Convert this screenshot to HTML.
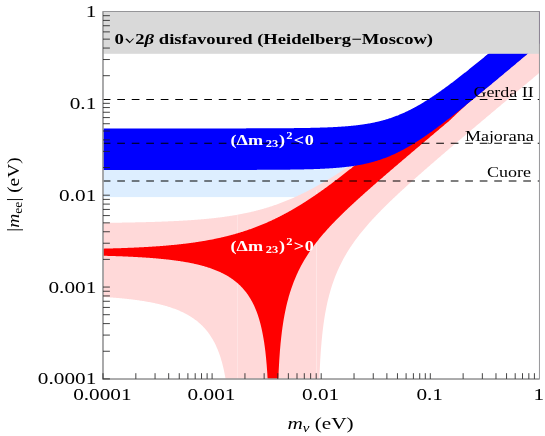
<!DOCTYPE html>
<html><head><meta charset="utf-8"><style>
html,body{margin:0;padding:0;background:#fff;}
body{width:545px;height:436px;overflow:hidden;position:relative;font-family:"Liberation Serif",serif;}
svg{position:absolute;left:0;top:0;will-change:transform;}
text{font-family:"Liberation Serif",serif;}
</style></head><body>
<svg width="545" height="436" viewBox="0 0 545 436">
<defs><clipPath id="cp"><rect x="103.0" y="11.5" width="436.4" height="367.4"/></clipPath></defs>
<rect x="0" y="0" width="545" height="436" fill="#fff"/>
<g clip-path="url(#cp)">
<rect x="103.0" y="150" width="270" height="47.099999999999994" fill="#ddeeff"/>
<polygon points="100.82,222.90 101.45,222.89 102.08,222.88 102.71,222.88 103.34,222.87 103.97,222.86 104.60,222.86 105.23,222.85 105.86,222.84 106.49,222.83 107.12,222.83 107.75,222.82 108.38,222.81 109.02,222.80 109.65,222.80 110.28,222.79 110.91,222.78 111.54,222.77 112.17,222.77 112.80,222.76 113.43,222.75 114.06,222.74 114.69,222.73 115.32,222.72 115.95,222.71 116.58,222.71 117.21,222.70 117.84,222.69 118.47,222.68 119.10,222.67 119.73,222.66 120.37,222.65 121.00,222.64 121.63,222.63 122.26,222.62 122.89,222.61 123.52,222.60 124.15,222.59 124.78,222.58 125.41,222.57 126.04,222.56 126.67,222.55 127.30,222.53 127.93,222.52 128.56,222.51 129.19,222.50 129.82,222.49 130.45,222.48 131.09,222.46 131.72,222.45 132.35,222.44 132.98,222.43 133.61,222.41 134.24,222.40 134.87,222.39 135.50,222.37 136.13,222.36 136.76,222.35 137.39,222.33 138.02,222.32 138.65,222.31 139.28,222.29 139.91,222.28 140.54,222.26 141.17,222.25 141.80,222.23 142.44,222.22 143.07,222.20 143.70,222.18 144.33,222.17 144.96,222.15 145.59,222.14 146.22,222.12 146.85,222.10 147.48,222.08 148.11,222.07 148.74,222.05 149.37,222.03 150.00,222.01 150.63,222.00 151.26,221.98 151.89,221.96 152.52,221.94 153.15,221.92 153.79,221.90 154.42,221.88 155.05,221.86 155.68,221.84 156.31,221.82 156.94,221.80 157.57,221.78 158.20,221.76 158.83,221.73 159.46,221.71 160.09,221.69 160.72,221.67 161.35,221.64 161.98,221.62 162.61,221.60 163.24,221.57 163.87,221.55 164.50,221.52 165.14,221.50 165.77,221.47 166.40,221.45 167.03,221.42 167.66,221.40 168.29,221.37 168.92,221.34 169.55,221.31 170.18,221.29 170.81,221.26 171.44,221.23 172.07,221.20 172.70,221.17 173.33,221.14 173.96,221.11 174.59,221.08 175.22,221.05 175.86,221.02 176.49,220.99 177.12,220.96 177.75,220.92 178.38,220.89 179.01,220.86 179.64,220.82 180.27,220.79 180.90,220.75 181.53,220.72 182.16,220.68 182.79,220.65 183.42,220.61 184.05,220.57 184.68,220.54 185.31,220.50 185.94,220.46 186.57,220.42 187.21,220.38 187.84,220.34 188.47,220.30 189.10,220.26 189.73,220.22 190.36,220.17 190.99,220.13 191.62,220.09 192.25,220.04 192.88,220.00 193.51,219.95 194.14,219.91 194.77,219.86 195.40,219.81 196.03,219.76 196.66,219.72 197.29,219.67 197.92,219.62 198.56,219.57 199.19,219.51 199.82,219.46 200.45,219.41 201.08,219.36 201.71,219.30 202.34,219.25 202.97,219.19 203.60,219.14 204.23,219.08 204.86,219.02 205.49,218.96 206.12,218.90 206.75,218.84 207.38,218.78 208.01,218.72 208.64,218.66 209.27,218.60 209.91,218.53 210.54,218.47 211.17,218.40 211.80,218.33 212.43,218.27 213.06,218.20 213.69,218.13 214.32,218.06 214.95,217.99 215.58,217.91 216.21,217.84 216.84,217.77 217.47,217.69 218.10,217.62 218.73,217.54 219.36,217.46 219.99,217.38 220.63,217.30 221.26,217.22 221.89,217.14 222.52,217.06 223.15,216.97 223.78,216.89 224.41,216.80 225.04,216.71 225.67,216.62 226.30,216.53 226.93,216.44 227.56,216.35 228.19,216.26 228.82,216.16 229.45,216.07 230.08,215.97 230.71,215.87 231.34,215.77 231.98,215.67 232.61,215.57 233.24,215.46 233.87,215.36 234.50,215.25 235.13,215.15 235.76,215.04 236.39,214.93 237.02,214.81 237.65,214.70 238.28,214.59 238.91,214.47 239.54,214.35 240.17,214.24 240.80,214.12 241.43,213.99 242.06,213.87 242.69,213.75 243.33,213.62 243.96,213.49 244.59,213.36 245.22,213.23 245.85,213.10 246.48,212.97 247.11,212.83 247.74,212.69 248.37,212.56 249.00,212.42 249.63,212.27 250.26,212.13 250.89,211.98 251.52,211.84 252.15,211.69 252.78,211.54 253.41,211.39 254.04,211.23 254.68,211.08 255.31,210.92 255.94,210.76 256.57,210.60 257.20,210.44 257.83,210.27 258.46,210.10 259.09,209.94 259.72,209.77 260.35,209.59 260.98,209.42 261.61,209.24 262.24,209.07 262.87,208.89 263.50,208.71 264.13,208.52 264.76,208.34 265.40,208.15 266.03,207.96 266.66,207.77 267.29,207.58 267.92,207.38 268.55,207.18 269.18,206.98 269.81,206.78 270.44,206.58 271.07,206.38 271.70,206.17 272.33,205.96 272.96,205.75 273.59,205.53 274.22,205.32 274.85,205.10 275.48,204.88 276.11,204.66 276.75,204.44 277.38,204.21 278.01,203.99 278.64,203.76 279.27,203.52 279.90,203.29 280.53,203.06 281.16,202.82 281.79,202.58 282.42,202.34 283.05,202.09 283.68,201.85 284.31,201.60 284.94,201.35 285.57,201.10 286.20,200.84 286.83,200.58 287.46,200.33 288.10,200.07 288.73,199.80 289.36,199.54 289.99,199.27 290.62,199.00 291.25,198.73 291.88,198.46 292.51,198.18 293.14,197.91 293.77,197.63 294.40,197.35 295.03,197.06 295.66,196.78 296.29,196.49 296.92,196.20 297.55,195.91 298.18,195.62 298.81,195.32 299.45,195.02 300.08,194.73 300.71,194.42 301.34,194.12 301.97,193.82 302.60,193.51 303.23,193.20 303.86,192.89 304.49,192.58 305.12,192.26 305.75,191.94 306.38,191.63 307.01,191.30 307.64,190.98 308.27,190.66 308.90,190.33 309.53,190.00 310.17,189.67 310.80,189.34 311.43,189.01 312.06,188.67 312.69,188.33 313.32,187.99 313.95,187.65 314.58,187.31 315.21,186.97 315.84,186.62 316.47,186.27 317.10,185.92 317.73,185.57 318.36,185.22 318.99,184.86 319.62,184.50 320.25,184.15 320.88,183.79 321.52,183.42 322.15,183.06 322.78,182.69 323.41,182.33 324.04,181.96 324.67,181.59 325.30,181.22 325.93,180.84 326.56,180.47 327.19,180.09 327.82,179.71 328.45,179.33 329.08,178.95 329.71,178.57 330.34,178.18 330.97,177.80 331.60,177.41 332.23,177.02 332.87,176.63 333.50,176.24 334.13,175.84 334.76,175.45 335.39,175.05 336.02,174.65 336.65,174.25 337.28,173.85 337.91,173.45 338.54,173.05 339.17,172.64 339.80,172.24 340.43,171.83 341.06,171.42 341.69,171.01 342.32,170.60 342.95,170.19 343.59,169.77 344.22,169.36 344.85,168.94 345.48,168.52 346.11,168.10 346.74,167.68 347.37,167.26 348.00,166.84 348.63,166.41 349.26,165.99 349.89,165.56 350.52,165.13 351.15,164.70 351.78,164.27 352.41,163.84 353.04,163.41 353.67,162.97 354.30,162.54 354.94,162.10 355.57,161.67 356.20,161.23 356.83,160.79 357.46,160.35 358.09,159.91 358.72,159.46 359.35,159.02 359.98,158.58 360.61,158.13 361.24,157.68 361.87,157.24 362.50,156.79 363.13,156.34 363.76,155.89 364.39,155.44 365.02,154.98 365.65,154.53 366.29,154.08 366.92,153.62 367.55,153.17 368.18,152.71 368.81,152.25 369.44,151.79 370.07,151.33 370.70,150.87 371.33,150.41 371.96,149.95 372.59,149.48 373.22,149.02 373.85,148.56 374.48,148.09 375.11,147.62 375.74,147.16 376.37,146.69 377.00,146.22 377.64,145.75 378.27,145.28 378.90,144.81 379.53,144.34 380.16,143.86 380.79,143.39 381.42,142.92 382.05,142.44 382.68,141.97 383.31,141.49 383.94,141.01 384.57,140.53 385.20,140.06 385.83,139.58 386.46,139.10 387.09,138.62 387.72,138.13 388.36,137.65 388.99,137.17 389.62,136.69 390.25,136.20 390.88,135.72 391.51,135.23 392.14,134.75 392.77,134.26 393.40,133.78 394.03,133.29 394.66,132.80 395.29,132.31 395.92,131.82 396.55,131.33 397.18,130.84 397.81,130.35 398.44,129.86 399.07,129.37 399.71,128.87 400.34,128.38 400.97,127.89 401.60,127.39 402.23,126.90 402.86,126.40 403.49,125.91 404.12,125.41 404.75,124.92 405.38,124.42 406.01,123.92 406.64,123.42 407.27,122.92 407.90,122.42 408.53,121.92 409.16,121.42 409.79,120.92 410.42,120.42 411.06,119.92 411.69,119.42 412.32,118.92 412.95,118.41 413.58,117.91 414.21,117.41 414.84,116.90 415.47,116.40 416.10,115.89 416.73,115.39 417.36,114.88 417.99,114.38 418.62,113.87 419.25,113.36 419.88,112.86 420.51,112.35 421.14,111.84 421.77,111.33 422.41,110.83 423.04,110.32 423.67,109.81 424.30,109.30 424.93,108.79 425.56,108.28 426.19,107.77 426.82,107.25 427.45,106.74 428.08,106.23 428.71,105.72 429.34,105.21 429.97,104.69 430.60,104.18 431.23,103.67 431.86,103.15 432.49,102.64 433.13,102.13 433.76,101.61 434.39,101.10 435.02,100.58 435.65,100.07 436.28,99.55 436.91,99.03 437.54,98.52 438.17,98.00 438.80,97.49 439.43,96.97 440.06,96.45 440.69,95.93 441.32,95.42 441.95,94.90 442.58,94.38 443.21,93.86 443.84,93.34 444.48,92.82 445.11,92.30 445.74,91.78 446.37,91.27 447.00,90.75 447.63,90.23 448.26,89.70 448.89,89.18 449.52,88.66 450.15,88.14 450.78,87.62 451.41,87.10 452.04,86.58 452.67,86.06 453.30,85.54 453.93,85.01 454.56,84.49 455.19,83.97 455.83,83.45 456.46,82.92 457.09,82.40 457.72,81.88 458.35,81.35 458.98,80.83 459.61,80.31 460.24,79.78 460.87,79.26 461.50,78.74 462.13,78.21 462.76,77.69 463.39,77.16 464.02,76.64 464.65,76.11 465.28,75.59 465.91,75.06 466.54,74.54 467.18,74.01 467.81,73.49 468.44,72.96 469.07,72.44 469.70,71.91 470.33,71.38 470.96,70.86 471.59,70.33 472.22,69.81 472.85,69.28 473.48,68.75 474.11,68.23 474.74,67.70 475.37,67.17 476.00,66.65 476.63,66.12 477.26,65.59 477.90,65.07 478.53,64.54 479.16,64.01 479.79,63.48 480.42,62.96 481.05,62.43 481.68,61.90 482.31,61.37 482.94,60.85 483.57,60.32 484.20,59.79 484.83,59.26 485.46,58.73 486.09,58.21 486.72,57.68 487.35,57.15 487.98,56.62 488.61,56.09 489.25,55.56 489.88,55.04 490.51,54.51 491.14,53.98 491.77,53.45 492.40,52.92 493.03,52.39 493.66,51.86 494.29,51.34 494.92,50.81 495.55,50.28 496.18,49.75 496.81,49.22 497.44,48.69 498.07,48.16 498.70,47.63 499.33,47.10 499.96,46.57 500.60,46.04 501.23,45.51 501.86,44.99 502.49,44.46 503.12,43.93 503.75,43.40 504.38,42.87 505.01,42.34 505.64,41.81 506.27,41.28 506.90,40.75 507.53,40.22 508.16,39.69 508.79,39.16 509.42,38.63 510.05,38.10 510.68,37.57 511.31,37.04 511.95,36.51 512.58,35.98 513.21,35.45 513.84,34.92 514.47,34.39 515.10,33.86 515.73,33.33 516.36,32.80 516.99,32.27 517.62,31.74 518.25,31.21 518.88,30.68 519.51,30.15 520.14,29.62 520.77,29.09 521.40,28.56 522.03,28.03 522.67,27.50 523.30,26.97 523.93,26.44 524.56,25.91 525.19,25.38 525.82,24.85 526.45,24.32 527.08,23.79 527.71,23.26 528.34,22.73 528.97,22.20 529.60,21.67 530.23,21.14 530.86,20.61 531.49,20.07 532.12,19.54 532.75,19.01 533.38,18.48 534.02,17.95 534.65,17.42 535.28,16.89 535.91,16.36 536.54,15.83 537.17,15.30 537.80,14.77 538.43,14.24 539.06,13.71 539.69,13.18 540.32,12.65 540.95,12.12 541.58,11.59 541.58,70.98 540.95,71.51 540.32,72.03 539.69,72.56 539.06,73.09 538.43,73.62 537.80,74.15 537.17,74.68 536.54,75.21 535.91,75.74 535.28,76.27 534.65,76.80 534.02,77.33 533.38,77.86 532.75,78.39 532.12,78.91 531.49,79.44 530.86,79.97 530.23,80.50 529.60,81.03 528.97,81.56 528.34,82.09 527.71,82.62 527.08,83.15 526.45,83.68 525.82,84.21 525.19,84.74 524.56,85.27 523.93,85.80 523.30,86.33 522.67,86.85 522.03,87.38 521.40,87.91 520.77,88.44 520.14,88.97 519.51,89.50 518.88,90.03 518.25,90.56 517.62,91.09 516.99,91.62 516.36,92.15 515.73,92.68 515.10,93.21 514.47,93.74 513.84,94.27 513.21,94.80 512.58,95.33 511.95,95.86 511.31,96.39 510.68,96.92 510.05,97.45 509.42,97.98 508.79,98.51 508.16,99.04 507.53,99.57 506.90,100.10 506.27,100.63 505.64,101.16 505.01,101.69 504.38,102.22 503.75,102.75 503.12,103.28 502.49,103.81 501.86,104.34 501.23,104.87 500.60,105.40 499.96,105.93 499.33,106.46 498.70,106.99 498.07,107.52 497.44,108.05 496.81,108.58 496.18,109.11 495.55,109.64 494.92,110.17 494.29,110.70 493.66,111.23 493.03,111.76 492.40,112.29 491.77,112.82 491.14,113.35 490.51,113.89 489.88,114.42 489.25,114.95 488.61,115.48 487.98,116.01 487.35,116.54 486.72,117.07 486.09,117.60 485.46,118.13 484.83,118.67 484.20,119.20 483.57,119.73 482.94,120.26 482.31,120.79 481.68,121.32 481.05,121.86 480.42,122.39 479.79,122.92 479.16,123.45 478.53,123.98 477.90,124.52 477.26,125.05 476.63,125.58 476.00,126.11 475.37,126.64 474.74,127.18 474.11,127.71 473.48,128.24 472.85,128.78 472.22,129.31 471.59,129.84 470.96,130.37 470.33,130.91 469.70,131.44 469.07,131.97 468.44,132.51 467.81,133.04 467.18,133.58 466.54,134.11 465.91,134.64 465.28,135.18 464.65,135.71 464.02,136.25 463.39,136.78 462.76,137.32 462.13,137.85 461.50,138.39 460.87,138.92 460.24,139.46 459.61,139.99 458.98,140.53 458.35,141.06 457.72,141.60 457.09,142.14 456.46,142.67 455.83,143.21 455.19,143.74 454.56,144.28 453.93,144.82 453.30,145.36 452.67,145.89 452.04,146.43 451.41,146.97 450.78,147.51 450.15,148.04 449.52,148.58 448.89,149.12 448.26,149.66 447.63,150.20 447.00,150.74 446.37,151.28 445.74,151.82 445.11,152.36 444.48,152.90 443.84,153.44 443.21,153.98 442.58,154.52 441.95,155.06 441.32,155.60 440.69,156.15 440.06,156.69 439.43,157.23 438.80,157.77 438.17,158.32 437.54,158.86 436.91,159.40 436.28,159.95 435.65,160.49 435.02,161.04 434.39,161.58 433.76,162.13 433.13,162.67 432.49,163.22 431.86,163.77 431.23,164.31 430.60,164.86 429.97,165.41 429.34,165.96 428.71,166.51 428.08,167.06 427.45,167.61 426.82,168.16 426.19,168.71 425.56,169.26 424.93,169.81 424.30,170.36 423.67,170.91 423.04,171.47 422.41,172.02 421.77,172.58 421.14,173.13 420.51,173.69 419.88,174.24 419.25,174.80 418.62,175.36 417.99,175.91 417.36,176.47 416.73,177.03 416.10,177.59 415.47,178.15 414.84,178.71 414.21,179.27 413.58,179.84 412.95,180.40 412.32,180.96 411.69,181.53 411.06,182.09 410.42,182.66 409.79,183.23 409.16,183.80 408.53,184.37 407.90,184.94 407.27,185.51 406.64,186.08 406.01,186.65 405.38,187.23 404.75,187.80 404.12,188.38 403.49,188.95 402.86,189.53 402.23,190.11 401.60,190.69 400.97,191.27 400.34,191.86 399.71,192.44 399.07,193.03 398.44,193.61 397.81,194.20 397.18,194.79 396.55,195.38 395.92,195.97 395.29,196.57 394.66,197.16 394.03,197.76 393.40,198.36 392.77,198.96 392.14,199.56 391.51,200.16 390.88,200.77 390.25,201.37 389.62,201.98 388.99,202.59 388.36,203.21 387.72,203.82 387.09,204.44 386.46,205.06 385.83,205.68 385.20,206.30 384.57,206.93 383.94,207.55 383.31,208.18 382.68,208.82 382.05,209.45 381.42,210.09 380.79,210.73 380.16,211.38 379.53,212.02 378.90,212.67 378.27,213.32 377.64,213.98 377.00,214.64 376.37,215.30 375.74,215.96 375.11,216.63 374.48,217.31 373.85,217.98 373.22,218.66 372.59,219.35 371.96,220.03 371.33,220.73 370.70,221.42 370.07,222.12 369.44,222.83 368.81,223.54 368.18,224.25 367.55,224.97 366.92,225.70 366.29,226.43 365.65,227.17 365.02,227.91 364.39,228.66 363.76,229.41 363.13,230.17 362.50,230.94 361.87,231.71 361.24,232.49 360.61,233.28 359.98,234.07 359.35,234.87 358.72,235.69 358.09,236.50 357.46,237.33 356.83,238.17 356.20,239.02 355.57,239.87 354.94,240.74 354.30,241.61 353.67,242.50 353.04,243.40 352.41,244.31 351.78,245.23 351.15,246.16 350.52,247.11 349.89,248.07 349.26,249.05 348.63,250.04 348.00,251.05 347.37,252.07 346.74,253.11 346.11,254.17 345.48,255.25 344.85,256.34 344.22,257.46 343.59,258.60 342.95,259.76 342.32,260.95 341.69,262.16 341.06,263.40 340.43,264.67 339.80,265.97 339.17,267.30 338.54,268.67 337.91,270.07 337.28,271.51 336.65,272.99 336.02,274.51 335.39,276.09 334.76,277.71 334.13,279.39 333.50,281.13 332.87,282.93 332.23,284.81 331.60,286.76 330.97,288.79 330.34,290.92 329.71,293.14 329.08,295.48 328.45,297.95 327.82,300.56 327.19,303.33 326.56,306.28 325.93,309.45 325.30,312.86 324.67,316.56 324.04,320.61 323.41,325.08 322.78,330.07 322.15,335.74 321.52,342.30 320.88,350.08 320.25,359.69 319.62,372.26 318.99,390.54 318.36,424.88 317.73,426.93 317.10,426.93 316.47,426.93 315.84,426.93 315.21,426.93 314.58,426.93 313.95,426.93 313.32,426.93 312.69,426.93 312.06,426.93 311.43,426.93 310.80,426.93 310.17,426.93 309.53,426.93 308.90,426.93 308.27,426.93 307.64,426.93 307.01,426.93 306.38,426.93 305.75,426.93 305.12,426.93 304.49,426.93 303.86,426.93 303.23,426.93 302.60,426.93 301.97,426.93 301.34,426.93 300.71,426.93 300.08,426.93 299.45,426.93 298.81,426.93 298.18,426.93 297.55,426.93 296.92,426.93 296.29,426.93 295.66,426.93 295.03,426.93 294.40,426.93 293.77,426.93 293.14,426.93 292.51,426.93 291.88,426.93 291.25,426.93 290.62,426.93 289.99,426.93 289.36,426.93 288.73,426.93 288.10,426.93 287.46,426.93 286.83,426.93 286.20,426.93 285.57,426.93 284.94,426.93 284.31,426.93 283.68,426.93 283.05,426.93 282.42,426.93 281.79,426.93 281.16,426.93 280.53,426.93 279.90,426.93 279.27,426.93 278.64,426.93 278.01,426.93 277.38,426.93 276.75,426.93 276.11,426.93 275.48,426.93 274.85,426.93 274.22,426.93 273.59,426.93 272.96,426.93 272.33,426.93 271.70,426.93 271.07,426.93 270.44,426.93 269.81,426.93 269.18,426.93 268.55,426.93 267.92,426.93 267.29,426.93 266.66,426.93 266.03,426.93 265.40,426.93 264.76,426.93 264.13,426.93 263.50,426.93 262.87,426.93 262.24,426.93 261.61,426.93 260.98,426.93 260.35,426.93 259.72,426.93 259.09,426.93 258.46,426.93 257.83,426.93 257.20,426.93 256.57,426.93 255.94,426.93 255.31,426.93 254.68,426.93 254.04,426.93 253.41,426.93 252.78,426.93 252.15,426.93 251.52,426.93 250.89,426.93 250.26,426.93 249.63,426.93 249.00,426.93 248.37,426.93 247.74,426.93 247.11,426.93 246.48,426.93 245.85,426.93 245.22,426.93 244.59,426.93 243.96,426.93 243.33,426.93 242.69,426.93 242.06,426.93 241.43,426.93 240.80,426.93 240.17,426.93 239.54,426.93 238.91,426.93 238.28,426.93 237.65,426.93 237.02,426.93 236.39,426.93 235.76,426.93 235.13,426.93 234.50,426.93 233.87,426.93 233.24,426.93 232.61,426.93 231.98,426.93 231.34,426.93 230.71,426.93 230.08,426.93 229.45,416.05 228.82,406.99 228.19,399.69 227.56,393.59 226.93,388.36 226.30,383.79 225.67,379.74 225.04,376.10 224.41,372.81 223.78,369.80 223.15,367.03 222.52,364.48 221.89,362.11 221.26,359.89 220.63,357.82 219.99,355.87 219.36,354.04 218.73,352.30 218.10,350.66 217.47,349.11 216.84,347.63 216.21,346.21 215.58,344.87 214.95,343.58 214.32,342.35 213.69,341.17 213.06,340.04 212.43,338.95 211.80,337.90 211.17,336.90 210.54,335.93 209.91,334.99 209.27,334.09 208.64,333.21 208.01,332.37 207.38,331.56 206.75,330.77 206.12,330.00 205.49,329.26 204.86,328.54 204.23,327.84 203.60,327.17 202.97,326.51 202.34,325.87 201.71,325.25 201.08,324.65 200.45,324.06 199.82,323.49 199.19,322.93 198.56,322.39 197.92,321.86 197.29,321.34 196.66,320.84 196.03,320.35 195.40,319.88 194.77,319.41 194.14,318.95 193.51,318.51 192.88,318.08 192.25,317.65 191.62,317.24 190.99,316.83 190.36,316.44 189.73,316.05 189.10,315.67 188.47,315.30 187.84,314.94 187.21,314.59 186.57,314.24 185.94,313.90 185.31,313.57 184.68,313.24 184.05,312.93 183.42,312.61 182.79,312.31 182.16,312.01 181.53,311.71 180.90,311.43 180.27,311.14 179.64,310.87 179.01,310.60 178.38,310.33 177.75,310.07 177.12,309.82 176.49,309.56 175.86,309.32 175.22,309.08 174.59,308.84 173.96,308.61 173.33,308.38 172.70,308.15 172.07,307.93 171.44,307.72 170.81,307.51 170.18,307.30 169.55,307.09 168.92,306.89 168.29,306.70 167.66,306.50 167.03,306.31 166.40,306.12 165.77,305.94 165.14,305.76 164.50,305.58 163.87,305.41 163.24,305.24 162.61,305.07 161.98,304.90 161.35,304.74 160.72,304.58 160.09,304.42 159.46,304.27 158.83,304.12 158.20,303.97 157.57,303.82 156.94,303.67 156.31,303.53 155.68,303.39 155.05,303.25 154.42,303.12 153.79,302.99 153.15,302.85 152.52,302.73 151.89,302.60 151.26,302.47 150.63,302.35 150.00,302.23 149.37,302.11 148.74,301.99 148.11,301.88 147.48,301.77 146.85,301.65 146.22,301.54 145.59,301.44 144.96,301.33 144.33,301.23 143.70,301.12 143.07,301.02 142.44,300.92 141.80,300.82 141.17,300.73 140.54,300.63 139.91,300.54 139.28,300.44 138.65,300.35 138.02,300.26 137.39,300.17 136.76,300.09 136.13,300.00 135.50,299.92 134.87,299.83 134.24,299.75 133.61,299.67 132.98,299.59 132.35,299.51 131.72,299.44 131.09,299.36 130.45,299.29 129.82,299.21 129.19,299.14 128.56,299.07 127.93,299.00 127.30,298.93 126.67,298.86 126.04,298.79 125.41,298.73 124.78,298.66 124.15,298.60 123.52,298.53 122.89,298.47 122.26,298.41 121.63,298.35 121.00,298.29 120.37,298.23 119.73,298.17 119.10,298.11 118.47,298.06 117.84,298.00 117.21,297.95 116.58,297.89 115.95,297.84 115.32,297.79 114.69,297.74 114.06,297.69 113.43,297.63 112.80,297.59 112.17,297.54 111.54,297.49 110.91,297.44 110.28,297.39 109.65,297.35 109.02,297.30 108.38,297.26 107.75,297.21 107.12,297.17 106.49,297.13 105.86,297.09 105.23,297.04 104.60,297.00 103.97,296.96 103.34,296.92 102.71,296.88 102.08,296.84 101.45,296.81 100.82,296.77" fill="#ffd9d9"/>
<g stroke="#ffeaea" stroke-width="0.7"><line x1="237.4" y1="215.2" x2="237.4" y2="380"/><line x1="316.5" y1="190" x2="316.5" y2="380"/></g>
<polygon points="100.82,248.70 101.45,248.69 102.08,248.67 102.71,248.66 103.34,248.64 103.97,248.63 104.60,248.61 105.23,248.59 105.86,248.58 106.49,248.56 107.12,248.55 107.75,248.53 108.38,248.51 109.02,248.50 109.65,248.48 110.28,248.46 110.91,248.44 111.54,248.43 112.17,248.41 112.80,248.39 113.43,248.37 114.06,248.35 114.69,248.33 115.32,248.31 115.95,248.30 116.58,248.28 117.21,248.26 117.84,248.23 118.47,248.21 119.10,248.19 119.73,248.17 120.37,248.15 121.00,248.13 121.63,248.11 122.26,248.09 122.89,248.06 123.52,248.04 124.15,248.02 124.78,247.99 125.41,247.97 126.04,247.95 126.67,247.92 127.30,247.90 127.93,247.87 128.56,247.85 129.19,247.82 129.82,247.80 130.45,247.77 131.09,247.74 131.72,247.72 132.35,247.69 132.98,247.66 133.61,247.63 134.24,247.61 134.87,247.58 135.50,247.55 136.13,247.52 136.76,247.49 137.39,247.46 138.02,247.43 138.65,247.40 139.28,247.37 139.91,247.33 140.54,247.30 141.17,247.27 141.80,247.24 142.44,247.20 143.07,247.17 143.70,247.14 144.33,247.10 144.96,247.07 145.59,247.03 146.22,246.99 146.85,246.96 147.48,246.92 148.11,246.88 148.74,246.85 149.37,246.81 150.00,246.77 150.63,246.73 151.26,246.69 151.89,246.65 152.52,246.61 153.15,246.57 153.79,246.53 154.42,246.48 155.05,246.44 155.68,246.40 156.31,246.35 156.94,246.31 157.57,246.27 158.20,246.22 158.83,246.17 159.46,246.13 160.09,246.08 160.72,246.03 161.35,245.98 161.98,245.93 162.61,245.89 163.24,245.83 163.87,245.78 164.50,245.73 165.14,245.68 165.77,245.63 166.40,245.57 167.03,245.52 167.66,245.47 168.29,245.41 168.92,245.35 169.55,245.30 170.18,245.24 170.81,245.18 171.44,245.12 172.07,245.06 172.70,245.00 173.33,244.94 173.96,244.88 174.59,244.82 175.22,244.76 175.86,244.69 176.49,244.63 177.12,244.56 177.75,244.50 178.38,244.43 179.01,244.36 179.64,244.29 180.27,244.22 180.90,244.15 181.53,244.08 182.16,244.01 182.79,243.94 183.42,243.86 184.05,243.79 184.68,243.71 185.31,243.64 185.94,243.56 186.57,243.48 187.21,243.40 187.84,243.32 188.47,243.24 189.10,243.16 189.73,243.08 190.36,242.99 190.99,242.91 191.62,242.82 192.25,242.74 192.88,242.65 193.51,242.56 194.14,242.47 194.77,242.38 195.40,242.29 196.03,242.19 196.66,242.10 197.29,242.01 197.92,241.91 198.56,241.81 199.19,241.71 199.82,241.62 200.45,241.51 201.08,241.41 201.71,241.31 202.34,241.21 202.97,241.10 203.60,241.00 204.23,240.89 204.86,240.78 205.49,240.67 206.12,240.56 206.75,240.45 207.38,240.33 208.01,240.22 208.64,240.10 209.27,239.99 209.91,239.87 210.54,239.75 211.17,239.63 211.80,239.50 212.43,239.38 213.06,239.26 213.69,239.13 214.32,239.00 214.95,238.87 215.58,238.74 216.21,238.61 216.84,238.48 217.47,238.34 218.10,238.21 218.73,238.07 219.36,237.93 219.99,237.79 220.63,237.65 221.26,237.51 221.89,237.36 222.52,237.22 223.15,237.07 223.78,236.92 224.41,236.77 225.04,236.62 225.67,236.46 226.30,236.31 226.93,236.15 227.56,235.99 228.19,235.83 228.82,235.67 229.45,235.51 230.08,235.34 230.71,235.17 231.34,235.01 231.98,234.84 232.61,234.67 233.24,234.49 233.87,234.32 234.50,234.14 235.13,233.96 235.76,233.78 236.39,233.60 237.02,233.42 237.65,233.23 238.28,233.05 238.91,232.86 239.54,232.67 240.17,232.47 240.80,232.28 241.43,232.08 242.06,231.89 242.69,231.69 243.33,231.49 243.96,231.28 244.59,231.08 245.22,230.87 245.85,230.66 246.48,230.45 247.11,230.24 247.74,230.02 248.37,229.81 249.00,229.59 249.63,229.37 250.26,229.15 250.89,228.92 251.52,228.70 252.15,228.47 252.78,228.24 253.41,228.01 254.04,227.77 254.68,227.54 255.31,227.30 255.94,227.06 256.57,226.82 257.20,226.58 257.83,226.33 258.46,226.08 259.09,225.83 259.72,225.58 260.35,225.33 260.98,225.07 261.61,224.81 262.24,224.55 262.87,224.29 263.50,224.03 264.13,223.76 264.76,223.49 265.40,223.22 266.03,222.95 266.66,222.67 267.29,222.40 267.92,222.12 268.55,221.84 269.18,221.55 269.81,221.27 270.44,220.98 271.07,220.69 271.70,220.40 272.33,220.10 272.96,219.81 273.59,219.51 274.22,219.21 274.85,218.91 275.48,218.60 276.11,218.30 276.75,217.99 277.38,217.68 278.01,217.36 278.64,217.05 279.27,216.73 279.90,216.41 280.53,216.09 281.16,215.76 281.79,215.44 282.42,215.11 283.05,214.78 283.68,214.45 284.31,214.11 284.94,213.78 285.57,213.44 286.20,213.10 286.83,212.75 287.46,212.41 288.10,212.06 288.73,211.71 289.36,211.36 289.99,211.00 290.62,210.65 291.25,210.29 291.88,209.93 292.51,209.57 293.14,209.20 293.77,208.84 294.40,208.47 295.03,208.10 295.66,207.73 296.29,207.35 296.92,206.98 297.55,206.60 298.18,206.22 298.81,205.83 299.45,205.45 300.08,205.06 300.71,204.67 301.34,204.28 301.97,203.89 302.60,203.49 303.23,203.10 303.86,202.70 304.49,202.30 305.12,201.90 305.75,201.49 306.38,201.09 307.01,200.68 307.64,200.27 308.27,199.86 308.90,199.44 309.53,199.03 310.17,198.61 310.80,198.19 311.43,197.77 312.06,197.35 312.69,196.92 313.32,196.50 313.95,196.07 314.58,195.64 315.21,195.21 315.84,194.78 316.47,194.34 317.10,193.90 317.73,193.47 318.36,193.03 318.99,192.59 319.62,192.14 320.25,191.70 320.88,191.25 321.52,190.81 322.15,190.36 322.78,189.91 323.41,189.45 324.04,189.00 324.67,188.55 325.30,188.09 325.93,187.63 326.56,187.17 327.19,186.71 327.82,186.25 328.45,185.79 329.08,185.32 329.71,184.86 330.34,184.39 330.97,183.92 331.60,183.45 332.23,182.98 332.87,182.51 333.50,182.04 334.13,181.56 334.76,181.09 335.39,180.61 336.02,180.13 336.65,179.65 337.28,179.17 337.91,178.69 338.54,178.21 339.17,177.73 339.80,177.24 340.43,176.76 341.06,176.27 341.69,175.79 342.32,175.30 342.95,174.81 343.59,174.32 344.22,173.83 344.85,173.34 345.48,172.85 346.11,172.35 346.74,171.86 347.37,171.36 348.00,170.87 348.63,170.37 349.26,169.87 349.89,169.37 350.52,168.88 351.15,168.38 351.78,167.88 352.41,167.37 353.04,166.87 353.67,166.37 354.30,165.87 354.94,165.36 355.57,164.86 356.20,164.35 356.83,163.85 357.46,163.34 358.09,162.84 358.72,162.33 359.35,161.82 359.98,161.31 360.61,160.80 361.24,160.29 361.87,159.78 362.50,159.27 363.13,158.76 363.76,158.25 364.39,157.74 365.02,157.23 365.65,156.71 366.29,156.20 366.92,155.69 367.55,155.17 368.18,154.66 368.81,154.14 369.44,153.63 370.07,153.11 370.70,152.60 371.33,152.08 371.96,151.56 372.59,151.05 373.22,150.53 373.85,150.01 374.48,149.49 375.11,148.97 375.74,148.46 376.37,147.94 377.00,147.42 377.64,146.90 378.27,146.38 378.90,145.86 379.53,145.34 380.16,144.82 380.79,144.30 381.42,143.77 382.05,143.25 382.68,142.73 383.31,142.21 383.94,141.69 384.57,141.17 385.20,140.64 385.83,140.12 386.46,139.60 387.09,139.07 387.72,138.55 388.36,138.03 388.99,137.50 389.62,136.98 390.25,136.45 390.88,135.93 391.51,135.41 392.14,134.88 392.77,134.36 393.40,133.83 394.03,133.31 394.66,132.78 395.29,132.26 395.92,131.73 396.55,131.20 397.18,130.68 397.81,130.15 398.44,129.63 399.07,129.10 399.71,128.57 400.34,128.05 400.97,127.52 401.60,126.99 402.23,126.47 402.86,125.94 403.49,125.41 404.12,124.89 404.75,124.36 405.38,123.83 406.01,123.31 406.64,122.78 407.27,122.25 407.90,121.72 408.53,121.19 409.16,120.67 409.79,120.14 410.42,119.61 411.06,119.08 411.69,118.56 412.32,118.03 412.95,117.50 413.58,116.97 414.21,116.44 414.84,115.91 415.47,115.39 416.10,114.86 416.73,114.33 417.36,113.80 417.99,113.27 418.62,112.74 419.25,112.21 419.88,111.68 420.51,111.16 421.14,110.63 421.77,110.10 422.41,109.57 423.04,109.04 423.67,108.51 424.30,107.98 424.93,107.45 425.56,106.92 426.19,106.39 426.82,105.86 427.45,105.33 428.08,104.80 428.71,104.27 429.34,103.75 429.97,103.22 430.60,102.69 431.23,102.16 431.86,101.63 432.49,101.10 433.13,100.57 433.76,100.04 434.39,99.51 435.02,98.98 435.65,98.45 436.28,97.92 436.91,97.39 437.54,96.86 438.17,96.33 438.80,95.80 439.43,95.27 440.06,94.74 440.69,94.21 441.32,93.68 441.95,93.15 442.58,92.62 443.21,92.09 443.84,91.56 444.48,91.03 445.11,90.50 445.74,89.97 446.37,89.44 447.00,88.91 447.63,88.38 448.26,87.85 448.89,87.32 449.52,86.79 450.15,86.26 450.78,85.73 451.41,85.19 452.04,84.66 452.67,84.13 453.30,83.60 453.93,83.07 454.56,82.54 455.19,82.01 455.83,81.48 456.46,80.95 457.09,80.42 457.72,79.89 458.35,79.36 458.98,78.83 459.61,78.30 460.24,77.77 460.87,77.24 461.50,76.71 462.13,76.18 462.76,75.65 463.39,75.12 464.02,74.59 464.65,74.05 465.28,73.52 465.91,72.99 466.54,72.46 467.18,71.93 467.81,71.40 468.44,70.87 469.07,70.34 469.70,69.81 470.33,69.28 470.96,68.75 471.59,68.22 472.22,67.69 472.85,67.16 473.48,66.63 474.11,66.10 474.74,65.56 475.37,65.03 476.00,64.50 476.63,63.97 477.26,63.44 477.90,62.91 478.53,62.38 479.16,61.85 479.79,61.32 480.42,60.79 481.05,60.26 481.68,59.73 482.31,59.20 482.94,58.67 483.57,58.14 484.20,57.60 484.83,57.07 485.46,56.54 486.09,56.01 486.72,55.48 487.35,54.95 487.98,54.42 488.61,53.89 489.25,53.36 489.88,52.83 490.51,52.30 491.14,51.77 491.77,51.24 492.40,50.70 493.03,50.17 493.66,49.64 494.29,49.11 494.92,48.58 495.55,48.05 496.18,47.52 496.81,46.99 497.44,46.46 498.07,45.93 498.70,45.40 499.33,44.87 499.96,44.34 500.60,43.80 501.23,43.27 501.86,42.74 502.49,42.21 503.12,41.68 503.75,41.15 504.38,40.62 505.01,40.09 505.64,39.56 506.27,39.03 506.90,38.50 507.53,37.97 508.16,37.43 508.79,36.90 509.42,36.37 510.05,35.84 510.68,35.31 511.31,34.78 511.95,34.25 512.58,33.72 513.21,33.19 513.84,32.66 514.47,32.13 515.10,31.60 515.73,31.06 516.36,30.53 516.99,30.00 517.62,29.47 518.25,28.94 518.88,28.41 519.51,27.88 520.14,27.35 520.77,26.82 521.40,26.29 522.03,25.76 522.67,25.23 523.30,24.69 523.93,24.16 524.56,23.63 525.19,23.10 525.82,22.57 526.45,22.04 527.08,21.51 527.71,20.98 528.34,20.45 528.97,19.92 529.60,19.39 530.23,18.86 530.86,18.32 531.49,17.79 532.12,17.26 532.75,16.73 533.38,16.20 534.02,15.67 534.65,15.14 535.28,14.61 535.91,14.08 536.54,13.55 537.17,13.02 537.80,12.49 538.43,11.95 539.06,11.42 539.69,10.89 540.32,10.36 540.95,9.83 541.58,9.30 541.58,41.58 540.95,42.11 540.32,42.64 539.69,43.17 539.06,43.70 538.43,44.23 537.80,44.76 537.17,45.29 536.54,45.82 535.91,46.34 535.28,46.87 534.65,47.40 534.02,47.93 533.38,48.46 532.75,48.99 532.12,49.52 531.49,50.05 530.86,50.58 530.23,51.11 529.60,51.64 528.97,52.17 528.34,52.70 527.71,53.23 527.08,53.76 526.45,54.29 525.82,54.82 525.19,55.35 524.56,55.87 523.93,56.40 523.30,56.93 522.67,57.46 522.03,57.99 521.40,58.52 520.77,59.05 520.14,59.58 519.51,60.11 518.88,60.63 518.25,61.16 517.62,61.69 516.99,62.22 516.36,62.75 515.73,63.28 515.10,63.80 514.47,64.33 513.84,64.86 513.21,65.39 512.58,65.92 511.95,66.44 511.31,66.97 510.68,67.50 510.05,68.03 509.42,68.55 508.79,69.08 508.16,69.61 507.53,70.14 506.90,70.66 506.27,71.19 505.64,71.72 505.01,72.24 504.38,72.77 503.75,73.30 503.12,73.82 502.49,74.35 501.86,74.88 501.23,75.40 500.60,75.93 499.96,76.45 499.33,76.98 498.70,77.51 498.07,78.03 497.44,78.56 496.81,79.08 496.18,79.61 495.55,80.13 494.92,80.66 494.29,81.18 493.66,81.70 493.03,82.23 492.40,82.75 491.77,83.28 491.14,83.80 490.51,84.32 489.88,84.85 489.25,85.37 488.61,85.89 487.98,86.42 487.35,86.94 486.72,87.46 486.09,87.98 485.46,88.50 484.83,89.02 484.20,89.55 483.57,90.07 482.94,90.59 482.31,91.11 481.68,91.63 481.05,92.15 480.42,92.67 479.79,93.19 479.16,93.71 478.53,94.22 477.90,94.74 477.26,95.26 476.63,95.78 476.00,96.30 475.37,96.81 474.74,97.33 474.11,97.85 473.48,98.36 472.85,98.88 472.22,99.39 471.59,99.94 470.96,100.52 470.33,101.10 469.70,101.67 469.07,102.25 468.44,102.83 467.81,103.40 467.18,103.98 466.54,104.56 465.91,105.14 465.28,105.72 464.65,106.30 464.02,106.89 463.39,107.47 462.76,108.06 462.13,108.64 461.50,109.23 460.87,109.82 460.24,110.41 459.61,111.00 458.98,111.59 458.35,112.18 457.72,112.78 457.09,113.37 456.46,113.97 455.83,114.57 455.19,115.17 454.56,115.77 453.93,116.38 453.30,116.98 452.67,117.59 452.04,118.20 451.41,118.81 450.78,119.43 450.15,120.04 449.52,120.60 448.89,121.13 448.26,121.66 447.63,122.19 447.00,122.72 446.37,123.25 445.74,123.79 445.11,124.32 444.48,124.85 443.84,125.38 443.21,125.91 442.58,126.45 441.95,126.98 441.32,127.51 440.69,128.04 440.06,128.57 439.43,129.11 438.80,129.64 438.17,130.17 437.54,130.70 436.91,131.24 436.28,131.77 435.65,132.30 435.02,132.83 434.39,133.37 433.76,133.90 433.13,134.43 432.49,134.96 431.86,135.50 431.23,136.03 430.60,136.56 429.97,137.09 429.34,137.63 428.71,138.16 428.08,138.69 427.45,139.23 426.82,139.76 426.19,140.29 425.56,140.83 424.93,141.36 424.30,141.89 423.67,142.43 423.04,142.96 422.41,143.49 421.77,144.03 421.14,144.56 420.51,145.09 419.88,145.63 419.25,146.16 418.62,146.70 417.99,147.23 417.36,147.76 416.73,148.30 416.10,148.83 415.47,149.37 414.84,149.90 414.21,150.44 413.58,150.97 412.95,151.51 412.32,152.04 411.69,152.58 411.06,153.11 410.42,153.65 409.79,154.18 409.16,154.72 408.53,155.25 407.90,155.79 407.27,156.33 406.64,156.86 406.01,157.40 405.38,157.93 404.75,158.47 404.12,159.01 403.49,159.55 402.86,160.08 402.23,160.62 401.60,161.16 400.97,161.69 400.34,162.23 399.71,162.77 399.07,163.31 398.44,163.85 397.81,164.39 397.18,164.92 396.55,165.46 395.92,166.00 395.29,166.54 394.66,167.08 394.03,167.62 393.40,168.16 392.77,168.70 392.14,169.24 391.51,169.78 390.88,170.32 390.25,170.87 389.62,171.41 388.99,171.95 388.36,172.49 387.72,173.03 387.09,173.58 386.46,174.12 385.83,174.66 385.20,175.21 384.57,175.75 383.94,176.30 383.31,176.84 382.68,177.39 382.05,177.93 381.42,178.48 380.79,179.03 380.16,179.57 379.53,180.12 378.90,180.67 378.27,181.22 377.64,181.77 377.00,182.32 376.37,182.87 375.74,183.42 375.11,183.97 374.48,184.52 373.85,185.07 373.22,185.62 372.59,186.18 371.96,186.73 371.33,187.29 370.70,187.84 370.07,188.40 369.44,188.95 368.81,189.51 368.18,190.07 367.55,190.63 366.92,191.19 366.29,191.75 365.65,192.31 365.02,192.87 364.39,193.43 363.76,194.00 363.13,194.56 362.50,195.13 361.87,195.69 361.24,196.26 360.61,196.83 359.98,197.40 359.35,197.97 358.72,198.54 358.09,199.11 357.46,199.69 356.83,200.26 356.20,200.84 355.57,201.42 354.94,202.00 354.30,202.58 353.67,203.16 353.04,203.74 352.41,204.32 351.78,204.91 351.15,205.50 350.52,206.09 349.89,206.68 349.26,207.27 348.63,207.86 348.00,208.46 347.37,209.06 346.74,209.66 346.11,210.26 345.48,210.86 344.85,211.47 344.22,212.07 343.59,212.68 342.95,213.30 342.32,213.91 341.69,214.53 341.06,215.14 340.43,215.77 339.80,216.39 339.17,217.02 338.54,217.65 337.91,218.28 337.28,218.91 336.65,219.55 336.02,220.19 335.39,220.84 334.76,221.49 334.13,222.14 333.50,222.79 332.87,223.45 332.23,224.11 331.60,224.78 330.97,225.45 330.34,226.12 329.71,226.80 329.08,227.48 328.45,228.17 327.82,228.86 327.19,229.55 326.56,230.25 325.93,230.96 325.30,231.67 324.67,232.39 324.04,233.11 323.41,233.84 322.78,234.57 322.15,235.31 321.52,236.06 320.88,236.81 320.25,237.57 319.62,238.34 318.99,239.12 318.36,239.90 317.73,240.69 317.10,241.49 316.47,242.29 315.84,243.11 315.21,243.93 314.58,244.77 313.95,245.61 313.32,246.47 312.69,247.33 312.06,248.21 311.43,249.10 310.80,250.00 310.17,250.91 309.53,251.84 308.90,252.78 308.27,253.73 307.64,254.70 307.01,255.68 306.38,256.68 305.75,257.70 305.12,258.73 304.49,259.79 303.86,260.86 303.23,261.95 302.60,263.07 301.97,264.21 301.34,265.37 300.71,266.56 300.08,267.77 299.45,269.01 298.81,270.28 298.18,271.59 297.55,272.92 296.92,274.30 296.29,275.71 295.66,277.16 295.03,278.65 294.40,280.19 293.77,281.78 293.14,283.43 292.51,285.13 291.88,286.89 291.25,288.72 290.62,290.63 289.99,292.62 289.36,294.70 288.73,296.87 288.10,299.15 287.46,301.56 286.83,304.10 286.20,306.79 285.57,309.66 284.94,312.73 284.31,316.03 283.68,319.60 283.05,323.50 282.42,327.79 281.79,332.55 281.16,337.93 280.53,344.10 279.90,351.35 279.27,360.16 278.64,371.38 278.01,386.91 277.38,412.47 276.75,426.93 276.11,426.93 275.48,426.93 274.85,426.93 274.22,426.93 273.59,426.93 272.96,426.93 272.33,426.93 271.70,426.93 271.07,426.93 270.44,426.93 269.81,426.93 269.18,426.93 268.55,400.21 267.92,384.46 267.29,373.33 266.66,364.73 266.03,357.74 265.40,351.86 264.76,346.80 264.13,342.37 263.50,338.42 262.87,334.88 262.24,331.66 261.61,328.72 260.98,326.02 260.35,323.52 259.72,321.19 259.09,319.02 258.46,316.99 257.83,315.08 257.20,313.28 256.57,311.58 255.94,309.97 255.31,308.44 254.68,306.98 254.04,305.60 253.41,304.27 252.78,303.01 252.15,301.80 251.52,300.64 250.89,299.53 250.26,298.46 249.63,297.43 249.00,296.44 248.37,295.49 247.74,294.57 247.11,293.68 246.48,292.83 245.85,292.00 245.22,291.20 244.59,290.42 243.96,289.67 243.33,288.94 242.69,288.24 242.06,287.55 241.43,286.89 240.80,286.24 240.17,285.62 239.54,285.01 238.91,284.42 238.28,283.84 237.65,283.28 237.02,282.73 236.39,282.20 235.76,281.68 235.13,281.18 234.50,280.69 233.87,280.21 233.24,279.74 232.61,279.28 231.98,278.83 231.34,278.40 230.71,277.97 230.08,277.56 229.45,277.15 228.82,276.76 228.19,276.37 227.56,275.99 226.93,275.62 226.30,275.26 225.67,274.90 225.04,274.56 224.41,274.22 223.78,273.89 223.15,273.56 222.52,273.24 221.89,272.93 221.26,272.63 220.63,272.33 219.99,272.03 219.36,271.75 218.73,271.47 218.10,271.19 217.47,270.92 216.84,270.65 216.21,270.39 215.58,270.14 214.95,269.89 214.32,269.64 213.69,269.40 213.06,269.17 212.43,268.94 211.80,268.71 211.17,268.49 210.54,268.27 209.91,268.05 209.27,267.84 208.64,267.63 208.01,267.43 207.38,267.23 206.75,267.03 206.12,266.84 205.49,266.65 204.86,266.47 204.23,266.28 203.60,266.11 202.97,265.93 202.34,265.76 201.71,265.59 201.08,265.42 200.45,265.25 199.82,265.09 199.19,264.93 198.56,264.78 197.92,264.62 197.29,264.47 196.66,264.32 196.03,264.18 195.40,264.03 194.77,263.89 194.14,263.76 193.51,263.62 192.88,263.48 192.25,263.35 191.62,263.22 190.99,263.09 190.36,262.97 189.73,262.85 189.10,262.72 188.47,262.60 187.84,262.49 187.21,262.37 186.57,262.26 185.94,262.14 185.31,262.03 184.68,261.92 184.05,261.82 183.42,261.71 182.79,261.61 182.16,261.51 181.53,261.41 180.90,261.31 180.27,261.21 179.64,261.11 179.01,261.02 178.38,260.93 177.75,260.83 177.12,260.74 176.49,260.66 175.86,260.57 175.22,260.48 174.59,260.40 173.96,260.31 173.33,260.23 172.70,260.15 172.07,260.07 171.44,259.99 170.81,259.92 170.18,259.84 169.55,259.76 168.92,259.69 168.29,259.62 167.66,259.55 167.03,259.48 166.40,259.41 165.77,259.34 165.14,259.27 164.50,259.20 163.87,259.14 163.24,259.07 162.61,259.01 161.98,258.95 161.35,258.89 160.72,258.82 160.09,258.76 159.46,258.71 158.83,258.65 158.20,258.59 157.57,258.53 156.94,258.48 156.31,258.42 155.68,258.37 155.05,258.32 154.42,258.26 153.79,258.21 153.15,258.16 152.52,258.11 151.89,258.06 151.26,258.01 150.63,257.96 150.00,257.92 149.37,257.87 148.74,257.82 148.11,257.78 147.48,257.73 146.85,257.69 146.22,257.64 145.59,257.60 144.96,257.56 144.33,257.52 143.70,257.48 143.07,257.44 142.44,257.40 141.80,257.36 141.17,257.32 140.54,257.28 139.91,257.24 139.28,257.20 138.65,257.17 138.02,257.13 137.39,257.10 136.76,257.06 136.13,257.03 135.50,256.99 134.87,256.96 134.24,256.92 133.61,256.89 132.98,256.86 132.35,256.83 131.72,256.80 131.09,256.76 130.45,256.73 129.82,256.70 129.19,256.67 128.56,256.65 127.93,256.62 127.30,256.59 126.67,256.56 126.04,256.53 125.41,256.50 124.78,256.48 124.15,256.45 123.52,256.43 122.89,256.40 122.26,256.37 121.63,256.35 121.00,256.32 120.37,256.30 119.73,256.28 119.10,256.25 118.47,256.23 117.84,256.20 117.21,256.18 116.58,256.16 115.95,256.14 115.32,256.12 114.69,256.09 114.06,256.07 113.43,256.05 112.80,256.03 112.17,256.01 111.54,255.99 110.91,255.97 110.28,255.95 109.65,255.93 109.02,255.91 108.38,255.89 107.75,255.88 107.12,255.86 106.49,255.84 105.86,255.82 105.23,255.80 104.60,255.79 103.97,255.77 103.34,255.75 102.71,255.74 102.08,255.72 101.45,255.70 100.82,255.69" fill="#ff0000"/>
<polygon points="100.82,128.44 101.45,128.44 102.08,128.44 102.71,128.44 103.34,128.44 103.97,128.44 104.60,128.44 105.23,128.44 105.86,128.44 106.49,128.44 107.12,128.44 107.75,128.44 108.38,128.44 109.02,128.44 109.65,128.44 110.28,128.44 110.91,128.44 111.54,128.44 112.17,128.44 112.80,128.44 113.43,128.44 114.06,128.44 114.69,128.44 115.32,128.44 115.95,128.44 116.58,128.44 117.21,128.44 117.84,128.44 118.47,128.44 119.10,128.44 119.73,128.44 120.37,128.44 121.00,128.44 121.63,128.44 122.26,128.44 122.89,128.44 123.52,128.44 124.15,128.44 124.78,128.44 125.41,128.44 126.04,128.44 126.67,128.44 127.30,128.44 127.93,128.44 128.56,128.44 129.19,128.44 129.82,128.44 130.45,128.44 131.09,128.44 131.72,128.44 132.35,128.44 132.98,128.44 133.61,128.44 134.24,128.44 134.87,128.44 135.50,128.44 136.13,128.44 136.76,128.44 137.39,128.44 138.02,128.44 138.65,128.44 139.28,128.44 139.91,128.44 140.54,128.44 141.17,128.44 141.80,128.44 142.44,128.44 143.07,128.44 143.70,128.44 144.33,128.44 144.96,128.44 145.59,128.44 146.22,128.44 146.85,128.44 147.48,128.44 148.11,128.44 148.74,128.44 149.37,128.44 150.00,128.44 150.63,128.44 151.26,128.44 151.89,128.44 152.52,128.44 153.15,128.44 153.79,128.44 154.42,128.43 155.05,128.43 155.68,128.43 156.31,128.43 156.94,128.43 157.57,128.43 158.20,128.43 158.83,128.43 159.46,128.43 160.09,128.43 160.72,128.43 161.35,128.43 161.98,128.43 162.61,128.43 163.24,128.43 163.87,128.43 164.50,128.43 165.14,128.43 165.77,128.43 166.40,128.43 167.03,128.43 167.66,128.43 168.29,128.43 168.92,128.43 169.55,128.43 170.18,128.43 170.81,128.43 171.44,128.43 172.07,128.43 172.70,128.43 173.33,128.43 173.96,128.43 174.59,128.43 175.22,128.43 175.86,128.43 176.49,128.43 177.12,128.43 177.75,128.43 178.38,128.43 179.01,128.43 179.64,128.43 180.27,128.43 180.90,128.43 181.53,128.43 182.16,128.43 182.79,128.43 183.42,128.43 184.05,128.43 184.68,128.43 185.31,128.43 185.94,128.43 186.57,128.43 187.21,128.43 187.84,128.43 188.47,128.43 189.10,128.43 189.73,128.43 190.36,128.43 190.99,128.43 191.62,128.43 192.25,128.43 192.88,128.43 193.51,128.43 194.14,128.43 194.77,128.42 195.40,128.42 196.03,128.42 196.66,128.42 197.29,128.42 197.92,128.42 198.56,128.42 199.19,128.42 199.82,128.42 200.45,128.42 201.08,128.42 201.71,128.42 202.34,128.42 202.97,128.42 203.60,128.42 204.23,128.42 204.86,128.42 205.49,128.42 206.12,128.42 206.75,128.42 207.38,128.42 208.01,128.42 208.64,128.42 209.27,128.42 209.91,128.42 210.54,128.42 211.17,128.42 211.80,128.42 212.43,128.42 213.06,128.42 213.69,128.41 214.32,128.41 214.95,128.41 215.58,128.41 216.21,128.41 216.84,128.41 217.47,128.41 218.10,128.41 218.73,128.41 219.36,128.41 219.99,128.41 220.63,128.41 221.26,128.41 221.89,128.41 222.52,128.41 223.15,128.41 223.78,128.41 224.41,128.41 225.04,128.40 225.67,128.40 226.30,128.40 226.93,128.40 227.56,128.40 228.19,128.40 228.82,128.40 229.45,128.40 230.08,128.40 230.71,128.40 231.34,128.40 231.98,128.40 232.61,128.40 233.24,128.40 233.87,128.39 234.50,128.39 235.13,128.39 235.76,128.39 236.39,128.39 237.02,128.39 237.65,128.39 238.28,128.39 238.91,128.39 239.54,128.39 240.17,128.39 240.80,128.38 241.43,128.38 242.06,128.38 242.69,128.38 243.33,128.38 243.96,128.38 244.59,128.38 245.22,128.38 245.85,128.38 246.48,128.37 247.11,128.37 247.74,128.37 248.37,128.37 249.00,128.37 249.63,128.37 250.26,128.37 250.89,128.36 251.52,128.36 252.15,128.36 252.78,128.36 253.41,128.36 254.04,128.36 254.68,128.35 255.31,128.35 255.94,128.35 256.57,128.35 257.20,128.35 257.83,128.35 258.46,128.34 259.09,128.34 259.72,128.34 260.35,128.34 260.98,128.34 261.61,128.33 262.24,128.33 262.87,128.33 263.50,128.33 264.13,128.32 264.76,128.32 265.40,128.32 266.03,128.32 266.66,128.31 267.29,128.31 267.92,128.31 268.55,128.31 269.18,128.30 269.81,128.30 270.44,128.30 271.07,128.30 271.70,128.29 272.33,128.29 272.96,128.29 273.59,128.28 274.22,128.28 274.85,128.28 275.48,128.27 276.11,128.27 276.75,128.27 277.38,128.26 278.01,128.26 278.64,128.25 279.27,128.25 279.90,128.25 280.53,128.24 281.16,128.24 281.79,128.23 282.42,128.23 283.05,128.22 283.68,128.22 284.31,128.21 284.94,128.21 285.57,128.20 286.20,128.20 286.83,128.19 287.46,128.19 288.10,128.18 288.73,128.18 289.36,128.17 289.99,128.16 290.62,128.16 291.25,128.15 291.88,128.15 292.51,128.14 293.14,128.13 293.77,128.13 294.40,128.12 295.03,128.11 295.66,128.10 296.29,128.10 296.92,128.09 297.55,128.08 298.18,128.07 298.81,128.06 299.45,128.06 300.08,128.05 300.71,128.04 301.34,128.03 301.97,128.02 302.60,128.01 303.23,128.00 303.86,127.99 304.49,127.98 305.12,127.97 305.75,127.96 306.38,127.95 307.01,127.94 307.64,127.92 308.27,127.91 308.90,127.90 309.53,127.89 310.17,127.88 310.80,127.86 311.43,127.85 312.06,127.83 312.69,127.82 313.32,127.81 313.95,127.79 314.58,127.78 315.21,127.76 315.84,127.74 316.47,127.73 317.10,127.71 317.73,127.69 318.36,127.68 318.99,127.66 319.62,127.64 320.25,127.62 320.88,127.60 321.52,127.58 322.15,127.56 322.78,127.54 323.41,127.52 324.04,127.50 324.67,127.48 325.30,127.45 325.93,127.43 326.56,127.41 327.19,127.38 327.82,127.36 328.45,127.33 329.08,127.31 329.71,127.28 330.34,127.25 330.97,127.22 331.60,127.19 332.23,127.16 332.87,127.13 333.50,127.10 334.13,127.07 334.76,127.04 335.39,127.00 336.02,126.97 336.65,126.93 337.28,126.90 337.91,126.86 338.54,126.82 339.17,126.79 339.80,126.75 340.43,126.71 341.06,126.66 341.69,126.62 342.32,126.58 342.95,126.53 343.59,126.49 344.22,126.44 344.85,126.39 345.48,126.34 346.11,126.29 346.74,126.24 347.37,126.19 348.00,126.14 348.63,126.08 349.26,126.03 349.89,125.97 350.52,125.91 351.15,125.85 351.78,125.79 352.41,125.73 353.04,125.66 353.67,125.60 354.30,125.53 354.94,125.46 355.57,125.39 356.20,125.32 356.83,125.24 357.46,125.17 358.09,125.09 358.72,125.01 359.35,124.93 359.98,124.85 360.61,124.77 361.24,124.68 361.87,124.59 362.50,124.50 363.13,124.41 363.76,124.32 364.39,124.22 365.02,124.12 365.65,124.02 366.29,123.92 366.92,123.82 367.55,123.71 368.18,123.60 368.81,123.49 369.44,123.38 370.07,123.26 370.70,123.15 371.33,123.03 371.96,122.90 372.59,122.78 373.22,122.65 373.85,122.52 374.48,122.39 375.11,122.25 375.74,122.11 376.37,121.97 377.00,121.83 377.64,121.68 378.27,121.54 378.90,121.38 379.53,121.23 380.16,121.07 380.79,120.91 381.42,120.75 382.05,120.58 382.68,120.41 383.31,120.24 383.94,120.06 384.57,119.89 385.20,119.70 385.83,119.52 386.46,119.33 387.09,119.14 387.72,118.95 388.36,118.75 388.99,118.55 389.62,118.34 390.25,118.14 390.88,117.92 391.51,117.71 392.14,117.49 392.77,117.27 393.40,117.05 394.03,116.82 394.66,116.59 395.29,116.35 395.92,116.12 396.55,115.87 397.18,115.63 397.81,115.38 398.44,115.13 399.07,114.87 399.71,114.61 400.34,114.35 400.97,114.08 401.60,113.82 402.23,113.54 402.86,113.27 403.49,112.99 404.12,112.70 404.75,112.42 405.38,112.12 406.01,111.83 406.64,111.53 407.27,111.23 407.90,110.93 408.53,110.62 409.16,110.31 409.79,109.99 410.42,109.68 411.06,109.36 411.69,109.03 412.32,108.70 412.95,108.37 413.58,108.04 414.21,107.70 414.84,107.36 415.47,107.01 416.10,106.67 416.73,106.32 417.36,105.96 417.99,105.61 418.62,105.25 419.25,104.88 419.88,104.52 420.51,104.15 421.14,103.78 421.77,103.40 422.41,103.02 423.04,102.64 423.67,102.26 424.30,101.87 424.93,101.48 425.56,101.09 426.19,100.70 426.82,100.30 427.45,99.90 428.08,99.50 428.71,99.09 429.34,98.68 429.97,98.27 430.60,97.86 431.23,97.45 431.86,97.03 432.49,96.61 433.13,96.19 433.76,95.76 434.39,95.34 435.02,94.91 435.65,94.48 436.28,94.05 436.91,93.61 437.54,93.17 438.17,92.73 438.80,92.29 439.43,91.85 440.06,91.40 440.69,90.96 441.32,90.51 441.95,90.06 442.58,89.61 443.21,89.15 443.84,88.69 444.48,88.24 445.11,87.78 445.74,87.32 446.37,86.85 447.00,86.39 447.63,85.92 448.26,85.46 448.89,84.99 449.52,84.52 450.15,84.05 450.78,83.57 451.41,83.10 452.04,82.63 452.67,82.15 453.30,81.67 453.93,81.19 454.56,80.71 455.19,80.23 455.83,79.75 456.46,79.26 457.09,78.78 457.72,78.29 458.35,77.80 458.98,77.31 459.61,76.82 460.24,76.33 460.87,75.84 461.50,75.35 462.13,74.86 462.76,74.36 463.39,73.87 464.02,73.37 464.65,72.87 465.28,72.38 465.91,71.88 466.54,71.38 467.18,70.88 467.81,70.38 468.44,69.88 469.07,69.37 469.70,68.87 470.33,68.37 470.96,67.86 471.59,67.36 472.22,66.85 472.85,66.35 473.48,65.84 474.11,65.33 474.74,64.82 475.37,64.31 476.00,63.80 476.63,63.29 477.26,62.78 477.90,62.27 478.53,61.76 479.16,61.25 479.79,60.74 480.42,60.22 481.05,59.71 481.68,59.20 482.31,58.68 482.94,58.17 483.57,57.65 484.20,57.14 484.83,56.62 485.46,56.11 486.09,55.59 486.72,55.07 487.35,54.56 487.98,54.04 488.61,53.52 489.25,53.00 489.88,52.48 490.51,51.96 491.14,51.44 491.77,50.93 492.40,50.41 493.03,49.89 493.66,49.36 494.29,48.84 494.92,48.32 495.55,47.80 496.18,47.28 496.81,46.76 497.44,46.24 498.07,45.71 498.70,45.19 499.33,44.67 499.96,44.15 500.60,43.62 501.23,43.10 501.86,42.58 502.49,42.05 503.12,41.53 503.75,41.01 504.38,40.48 505.01,39.96 505.64,39.43 506.27,38.91 506.90,38.38 507.53,37.86 508.16,37.33 508.79,36.81 509.42,36.28 510.05,35.76 510.68,35.23 511.31,34.71 511.95,34.18 512.58,33.65 513.21,33.13 513.84,32.60 514.47,32.07 515.10,31.55 515.73,31.02 516.36,30.49 516.99,29.97 517.62,29.44 518.25,28.91 518.88,28.39 519.51,27.86 520.14,27.33 520.77,26.80 521.40,26.28 522.03,25.75 522.67,25.22 523.30,24.69 523.93,24.17 524.56,23.64 525.19,23.11 525.82,22.58 526.45,22.05 527.08,21.52 527.71,21.00 528.34,20.47 528.97,19.94 529.60,19.41 530.23,18.88 530.86,18.35 531.49,17.82 532.12,17.30 532.75,16.77 533.38,16.24 534.02,15.71 534.65,15.18 535.28,14.65 535.91,14.12 536.54,13.59 537.17,13.06 537.80,12.53 538.43,12.01 539.06,11.48 539.69,10.95 540.32,10.42 540.95,9.89 541.58,9.36 541.58,42.18 540.95,42.71 540.32,43.24 539.69,43.77 539.06,44.30 538.43,44.83 537.80,45.36 537.17,45.89 536.54,46.42 535.91,46.94 535.28,47.47 534.65,48.00 534.02,48.53 533.38,49.06 532.75,49.59 532.12,50.12 531.49,50.65 530.86,51.18 530.23,51.71 529.60,52.24 528.97,52.77 528.34,53.30 527.71,53.83 527.08,54.36 526.45,54.89 525.82,55.42 525.19,55.95 524.56,56.47 523.93,57.00 523.30,57.53 522.67,58.06 522.03,58.59 521.40,59.12 520.77,59.65 520.14,60.18 519.51,60.71 518.88,61.23 518.25,61.76 517.62,62.29 516.99,62.82 516.36,63.35 515.73,63.88 515.10,64.40 514.47,64.93 513.84,65.46 513.21,65.99 512.58,66.52 511.95,67.04 511.31,67.57 510.68,68.10 510.05,68.63 509.42,69.15 508.79,69.68 508.16,70.21 507.53,70.74 506.90,71.26 506.27,71.79 505.64,72.32 505.01,72.84 504.38,73.37 503.75,73.90 503.12,74.42 502.49,74.95 501.86,75.48 501.23,76.00 500.60,76.53 499.96,77.05 499.33,77.58 498.70,78.11 498.07,78.63 497.44,79.16 496.81,79.68 496.18,80.21 495.55,80.73 494.92,81.26 494.29,81.78 493.66,82.30 493.03,82.83 492.40,83.35 491.77,83.88 491.14,84.40 490.51,84.92 489.88,85.45 489.25,85.97 488.61,86.49 487.98,87.02 487.35,87.54 486.72,88.06 486.09,88.58 485.46,89.10 484.83,89.62 484.20,90.15 483.57,90.67 482.94,91.19 482.31,91.71 481.68,92.23 481.05,92.75 480.42,93.27 479.79,93.79 479.16,94.31 478.53,94.82 477.90,95.34 477.26,95.86 476.63,96.38 476.00,96.90 475.37,97.41 474.74,97.93 474.11,98.45 473.48,98.96 472.85,99.48 472.22,99.99 471.59,100.51 470.96,101.02 470.33,101.53 469.70,102.05 469.07,102.56 468.44,103.07 467.81,103.58 467.18,104.10 466.54,104.61 465.91,105.12 465.28,105.63 464.65,106.14 464.02,106.64 463.39,107.15 462.76,107.66 462.13,108.17 461.50,108.67 460.87,109.18 460.24,109.68 459.61,110.19 458.98,110.69 458.35,111.20 457.72,111.70 457.09,112.20 456.46,112.70 455.83,113.20 455.19,113.70 454.56,114.20 453.93,114.70 453.30,115.19 452.67,115.69 452.04,116.18 451.41,116.68 450.78,117.17 450.15,117.66 449.52,118.16 448.89,118.65 448.26,119.14 447.63,119.62 447.00,120.11 446.37,120.60 445.74,121.08 445.11,121.57 444.48,122.05 443.84,122.53 443.21,123.01 442.58,123.49 441.95,123.97 441.32,124.45 440.69,124.92 440.06,125.40 439.43,125.87 438.80,126.34 438.17,126.81 437.54,127.28 436.91,127.74 436.28,128.21 435.65,128.67 435.02,129.14 434.39,129.60 433.76,130.06 433.13,130.51 432.49,130.97 431.86,131.42 431.23,131.88 430.60,132.33 429.97,132.78 429.34,133.22 428.71,133.67 428.08,134.11 427.45,134.55 426.82,134.99 426.19,135.43 425.56,135.86 424.93,136.30 424.30,136.73 423.67,137.15 423.04,137.58 422.41,138.01 421.77,138.43 421.14,138.85 420.51,139.26 419.88,139.68 419.25,140.09 418.62,140.50 417.99,140.91 417.36,141.31 416.73,141.71 416.10,142.11 415.47,142.51 414.84,142.91 414.21,143.30 413.58,143.69 412.95,144.07 412.32,144.45 411.69,144.83 411.06,145.21 410.42,145.59 409.79,145.96 409.16,146.33 408.53,146.69 407.90,147.06 407.27,147.41 406.64,147.77 406.01,148.12 405.38,148.47 404.75,148.82 404.12,149.17 403.49,149.51 402.86,149.84 402.23,150.18 401.60,150.51 400.97,150.84 400.34,151.16 399.71,151.48 399.07,151.80 398.44,152.11 397.81,152.42 397.18,152.73 396.55,153.03 395.92,153.33 395.29,153.63 394.66,153.92 394.03,154.21 393.40,154.50 392.77,154.78 392.14,155.06 391.51,155.34 390.88,155.61 390.25,155.88 389.62,156.14 388.99,156.40 388.36,156.66 387.72,156.92 387.09,157.17 386.46,157.42 385.83,157.66 385.20,157.90 384.57,158.14 383.94,158.37 383.31,158.60 382.68,158.83 382.05,159.05 381.42,159.27 380.79,159.49 380.16,159.70 379.53,159.91 378.90,160.12 378.27,160.32 377.64,160.52 377.00,160.72 376.37,160.91 375.74,161.10 375.11,161.29 374.48,161.47 373.85,161.65 373.22,161.83 372.59,162.00 371.96,162.17 371.33,162.34 370.70,162.51 370.07,162.67 369.44,162.83 368.81,162.98 368.18,163.14 367.55,163.29 366.92,163.43 366.29,163.58 365.65,163.72 365.02,163.86 364.39,164.00 363.76,164.13 363.13,164.26 362.50,164.39 361.87,164.52 361.24,164.64 360.61,164.76 359.98,164.88 359.35,165.00 358.72,165.11 358.09,165.22 357.46,165.33 356.83,165.44 356.20,165.54 355.57,165.64 354.94,165.75 354.30,165.84 353.67,165.94 353.04,166.03 352.41,166.13 351.78,166.22 351.15,166.30 350.52,166.39 349.89,166.47 349.26,166.56 348.63,166.64 348.00,166.72 347.37,166.79 346.74,166.87 346.11,166.94 345.48,167.02 344.85,167.09 344.22,167.15 343.59,167.22 342.95,167.29 342.32,167.35 341.69,167.41 341.06,167.48 340.43,167.54 339.80,167.59 339.17,167.65 338.54,167.71 337.91,167.76 337.28,167.82 336.65,167.87 336.02,167.92 335.39,167.97 334.76,168.02 334.13,168.06 333.50,168.11 332.87,168.16 332.23,168.20 331.60,168.24 330.97,168.29 330.34,168.33 329.71,168.37 329.08,168.41 328.45,168.44 327.82,168.48 327.19,168.52 326.56,168.55 325.93,168.59 325.30,168.62 324.67,168.65 324.04,168.69 323.41,168.72 322.78,168.75 322.15,168.78 321.52,168.81 320.88,168.84 320.25,168.86 319.62,168.89 318.99,168.92 318.36,168.94 317.73,168.97 317.10,168.99 316.47,169.02 315.84,169.04 315.21,169.06 314.58,169.09 313.95,169.11 313.32,169.13 312.69,169.15 312.06,169.17 311.43,169.19 310.80,169.21 310.17,169.23 309.53,169.24 308.90,169.26 308.27,169.28 307.64,169.30 307.01,169.31 306.38,169.33 305.75,169.34 305.12,169.36 304.49,169.37 303.86,169.39 303.23,169.40 302.60,169.42 301.97,169.43 301.34,169.44 300.71,169.46 300.08,169.47 299.45,169.48 298.81,169.49 298.18,169.51 297.55,169.52 296.92,169.53 296.29,169.54 295.66,169.55 295.03,169.56 294.40,169.57 293.77,169.58 293.14,169.59 292.51,169.60 291.88,169.61 291.25,169.62 290.62,169.62 289.99,169.63 289.36,169.64 288.73,169.65 288.10,169.66 287.46,169.66 286.83,169.67 286.20,169.68 285.57,169.69 284.94,169.69 284.31,169.70 283.68,169.71 283.05,169.71 282.42,169.72 281.79,169.72 281.16,169.73 280.53,169.74 279.90,169.74 279.27,169.75 278.64,169.75 278.01,169.76 277.38,169.76 276.75,169.77 276.11,169.77 275.48,169.78 274.85,169.78 274.22,169.79 273.59,169.79 272.96,169.79 272.33,169.80 271.70,169.80 271.07,169.81 270.44,169.81 269.81,169.81 269.18,169.82 268.55,169.82 267.92,169.83 267.29,169.83 266.66,169.83 266.03,169.84 265.40,169.84 264.76,169.84 264.13,169.84 263.50,169.85 262.87,169.85 262.24,169.85 261.61,169.86 260.98,169.86 260.35,169.86 259.72,169.86 259.09,169.87 258.46,169.87 257.83,169.87 257.20,169.87 256.57,169.88 255.94,169.88 255.31,169.88 254.68,169.88 254.04,169.88 253.41,169.89 252.78,169.89 252.15,169.89 251.52,169.89 250.89,169.89 250.26,169.89 249.63,169.90 249.00,169.90 248.37,169.90 247.74,169.90 247.11,169.90 246.48,169.90 245.85,169.91 245.22,169.91 244.59,169.91 243.96,169.91 243.33,169.91 242.69,169.91 242.06,169.91 241.43,169.92 240.80,169.92 240.17,169.92 239.54,169.92 238.91,169.92 238.28,169.92 237.65,169.92 237.02,169.92 236.39,169.92 235.76,169.93 235.13,169.93 234.50,169.93 233.87,169.93 233.24,169.93 232.61,169.93 231.98,169.93 231.34,169.93 230.71,169.93 230.08,169.93 229.45,169.93 228.82,169.94 228.19,169.94 227.56,169.94 226.93,169.94 226.30,169.94 225.67,169.94 225.04,169.94 224.41,169.94 223.78,169.94 223.15,169.94 222.52,169.94 221.89,169.94 221.26,169.94 220.63,169.94 219.99,169.94 219.36,169.95 218.73,169.95 218.10,169.95 217.47,169.95 216.84,169.95 216.21,169.95 215.58,169.95 214.95,169.95 214.32,169.95 213.69,169.95 213.06,169.95 212.43,169.95 211.80,169.95 211.17,169.95 210.54,169.95 209.91,169.95 209.27,169.95 208.64,169.95 208.01,169.95 207.38,169.95 206.75,169.95 206.12,169.95 205.49,169.95 204.86,169.96 204.23,169.96 203.60,169.96 202.97,169.96 202.34,169.96 201.71,169.96 201.08,169.96 200.45,169.96 199.82,169.96 199.19,169.96 198.56,169.96 197.92,169.96 197.29,169.96 196.66,169.96 196.03,169.96 195.40,169.96 194.77,169.96 194.14,169.96 193.51,169.96 192.88,169.96 192.25,169.96 191.62,169.96 190.99,169.96 190.36,169.96 189.73,169.96 189.10,169.96 188.47,169.96 187.84,169.96 187.21,169.96 186.57,169.96 185.94,169.96 185.31,169.96 184.68,169.96 184.05,169.96 183.42,169.96 182.79,169.96 182.16,169.96 181.53,169.96 180.90,169.96 180.27,169.96 179.64,169.96 179.01,169.96 178.38,169.96 177.75,169.96 177.12,169.96 176.49,169.96 175.86,169.96 175.22,169.97 174.59,169.97 173.96,169.97 173.33,169.97 172.70,169.97 172.07,169.97 171.44,169.97 170.81,169.97 170.18,169.97 169.55,169.97 168.92,169.97 168.29,169.97 167.66,169.97 167.03,169.97 166.40,169.97 165.77,169.97 165.14,169.97 164.50,169.97 163.87,169.97 163.24,169.97 162.61,169.97 161.98,169.97 161.35,169.97 160.72,169.97 160.09,169.97 159.46,169.97 158.83,169.97 158.20,169.97 157.57,169.97 156.94,169.97 156.31,169.97 155.68,169.97 155.05,169.97 154.42,169.97 153.79,169.97 153.15,169.97 152.52,169.97 151.89,169.97 151.26,169.97 150.63,169.97 150.00,169.97 149.37,169.97 148.74,169.97 148.11,169.97 147.48,169.97 146.85,169.97 146.22,169.97 145.59,169.97 144.96,169.97 144.33,169.97 143.70,169.97 143.07,169.97 142.44,169.97 141.80,169.97 141.17,169.97 140.54,169.97 139.91,169.97 139.28,169.97 138.65,169.97 138.02,169.97 137.39,169.97 136.76,169.97 136.13,169.97 135.50,169.97 134.87,169.97 134.24,169.97 133.61,169.97 132.98,169.97 132.35,169.97 131.72,169.97 131.09,169.97 130.45,169.97 129.82,169.97 129.19,169.97 128.56,169.97 127.93,169.97 127.30,169.97 126.67,169.97 126.04,169.97 125.41,169.97 124.78,169.97 124.15,169.97 123.52,169.97 122.89,169.97 122.26,169.97 121.63,169.97 121.00,169.97 120.37,169.97 119.73,169.97 119.10,169.97 118.47,169.97 117.84,169.97 117.21,169.97 116.58,169.97 115.95,169.97 115.32,169.97 114.69,169.97 114.06,169.97 113.43,169.97 112.80,169.97 112.17,169.97 111.54,169.97 110.91,169.97 110.28,169.97 109.65,169.97 109.02,169.97 108.38,169.97 107.75,169.97 107.12,169.97 106.49,169.97 105.86,169.97 105.23,169.97 104.60,169.97 103.97,169.97 103.34,169.97 102.71,169.97 102.08,169.97 101.45,169.97 100.82,169.97" fill="#0000ff"/>
<rect x="103.0" y="11.5" width="436.4" height="42.3" fill="#d9d9d9"/>
</g>
<g stroke="#000" stroke-width="1.1" stroke-dasharray="7.7 6.8" fill="none">
<line x1="102.75" y1="99.5" x2="539.4" y2="99.5"/>
<line x1="102.75" y1="143.2" x2="539.4" y2="143.2"/>
<line x1="102.75" y1="181.0" x2="539.4" y2="181.0"/>
</g>
<g stroke="#9c9c9c" fill="none">
<rect x="103.0" y="11.5" width="436.4" height="367.4" stroke-width="0.9" stroke="#8a8a8e"/>
<line x1="103.0" y1="11.5" x2="103.0" y2="379.59999999999997" stroke-width="1.4"/>
<line x1="102.3" y1="379.09999999999997" x2="539.4" y2="379.09999999999997" stroke-width="1.2"/>
</g>
<g stroke="#222" stroke-width="0.85" fill="none">
<line x1="103.00" y1="378.90" x2="103.00" y2="373.20"/>
<line x1="103.00" y1="378.90" x2="109.90" y2="378.90"/>
<line x1="135.84" y1="378.90" x2="135.84" y2="373.20"/>
<line x1="103.00" y1="351.25" x2="109.90" y2="351.25"/>
<line x1="155.05" y1="378.90" x2="155.05" y2="373.20"/>
<line x1="103.00" y1="335.08" x2="109.90" y2="335.08"/>
<line x1="168.68" y1="378.90" x2="168.68" y2="373.20"/>
<line x1="103.00" y1="323.60" x2="109.90" y2="323.60"/>
<line x1="179.26" y1="378.90" x2="179.26" y2="373.20"/>
<line x1="103.00" y1="314.70" x2="109.90" y2="314.70"/>
<line x1="187.90" y1="378.90" x2="187.90" y2="373.20"/>
<line x1="103.00" y1="307.43" x2="109.90" y2="307.43"/>
<line x1="195.20" y1="378.90" x2="195.20" y2="373.20"/>
<line x1="103.00" y1="301.28" x2="109.90" y2="301.28"/>
<line x1="201.53" y1="378.90" x2="201.53" y2="373.20"/>
<line x1="103.00" y1="295.95" x2="109.90" y2="295.95"/>
<line x1="207.11" y1="378.90" x2="207.11" y2="373.20"/>
<line x1="103.00" y1="291.25" x2="109.90" y2="291.25"/>
<line x1="212.10" y1="378.90" x2="212.10" y2="373.20"/>
<line x1="103.00" y1="287.05" x2="109.90" y2="287.05"/>
<line x1="244.94" y1="378.90" x2="244.94" y2="373.20"/>
<line x1="103.00" y1="259.40" x2="109.90" y2="259.40"/>
<line x1="264.15" y1="378.90" x2="264.15" y2="373.20"/>
<line x1="103.00" y1="243.23" x2="109.90" y2="243.23"/>
<line x1="277.78" y1="378.90" x2="277.78" y2="373.20"/>
<line x1="103.00" y1="231.75" x2="109.90" y2="231.75"/>
<line x1="288.36" y1="378.90" x2="288.36" y2="373.20"/>
<line x1="103.00" y1="222.85" x2="109.90" y2="222.85"/>
<line x1="297.00" y1="378.90" x2="297.00" y2="373.20"/>
<line x1="103.00" y1="215.58" x2="109.90" y2="215.58"/>
<line x1="304.30" y1="378.90" x2="304.30" y2="373.20"/>
<line x1="103.00" y1="209.43" x2="109.90" y2="209.43"/>
<line x1="310.63" y1="378.90" x2="310.63" y2="373.20"/>
<line x1="103.00" y1="204.10" x2="109.90" y2="204.10"/>
<line x1="316.21" y1="378.90" x2="316.21" y2="373.20"/>
<line x1="103.00" y1="199.40" x2="109.90" y2="199.40"/>
<line x1="321.20" y1="378.90" x2="321.20" y2="373.20"/>
<line x1="103.00" y1="195.20" x2="109.90" y2="195.20"/>
<line x1="354.04" y1="378.90" x2="354.04" y2="373.20"/>
<line x1="103.00" y1="167.55" x2="109.90" y2="167.55"/>
<line x1="373.25" y1="378.90" x2="373.25" y2="373.20"/>
<line x1="103.00" y1="151.38" x2="109.90" y2="151.38"/>
<line x1="386.88" y1="378.90" x2="386.88" y2="373.20"/>
<line x1="103.00" y1="139.90" x2="109.90" y2="139.90"/>
<line x1="397.46" y1="378.90" x2="397.46" y2="373.20"/>
<line x1="103.00" y1="131.00" x2="109.90" y2="131.00"/>
<line x1="406.10" y1="378.90" x2="406.10" y2="373.20"/>
<line x1="103.00" y1="123.73" x2="109.90" y2="123.73"/>
<line x1="413.40" y1="378.90" x2="413.40" y2="373.20"/>
<line x1="103.00" y1="117.58" x2="109.90" y2="117.58"/>
<line x1="419.73" y1="378.90" x2="419.73" y2="373.20"/>
<line x1="103.00" y1="112.25" x2="109.90" y2="112.25"/>
<line x1="425.31" y1="378.90" x2="425.31" y2="373.20"/>
<line x1="103.00" y1="107.55" x2="109.90" y2="107.55"/>
<line x1="430.30" y1="378.90" x2="430.30" y2="373.20"/>
<line x1="103.00" y1="103.35" x2="109.90" y2="103.35"/>
<line x1="463.14" y1="378.90" x2="463.14" y2="373.20"/>
<line x1="103.00" y1="75.70" x2="109.90" y2="75.70"/>
<line x1="482.35" y1="378.90" x2="482.35" y2="373.20"/>
<line x1="103.00" y1="59.53" x2="109.90" y2="59.53"/>
<line x1="495.98" y1="378.90" x2="495.98" y2="373.20"/>
<line x1="103.00" y1="48.05" x2="109.90" y2="48.05"/>
<line x1="506.56" y1="378.90" x2="506.56" y2="373.20"/>
<line x1="103.00" y1="39.15" x2="109.90" y2="39.15"/>
<line x1="515.20" y1="378.90" x2="515.20" y2="373.20"/>
<line x1="103.00" y1="31.88" x2="109.90" y2="31.88"/>
<line x1="522.50" y1="378.90" x2="522.50" y2="373.20"/>
<line x1="103.00" y1="25.73" x2="109.90" y2="25.73"/>
<line x1="528.83" y1="378.90" x2="528.83" y2="373.20"/>
<line x1="103.00" y1="20.40" x2="109.90" y2="20.40"/>
<line x1="534.41" y1="378.90" x2="534.41" y2="373.20"/>
<line x1="103.00" y1="15.70" x2="109.90" y2="15.70"/>
</g>
<g fill="#000">
<text transform="translate(96.30,17.00) scale(1.25,1)" font-size="17" text-anchor="end" >1</text><text transform="translate(96.30,108.85) scale(1.25,1)" font-size="17" text-anchor="end" >0.1</text><text transform="translate(96.30,200.70) scale(1.25,1)" font-size="17" text-anchor="end" >0.01</text><text transform="translate(96.30,292.55) scale(1.25,1)" font-size="17" text-anchor="end" >0.001</text><text transform="translate(96.30,384.40) scale(1.25,1)" font-size="17" text-anchor="end" >0.0001</text>
<text transform="translate(538.80,399.70) scale(1.25,1)" font-size="17" text-anchor="middle" >1</text><text transform="translate(429.70,399.70) scale(1.25,1)" font-size="17" text-anchor="middle" >0.1</text><text transform="translate(320.60,399.70) scale(1.25,1)" font-size="17" text-anchor="middle" >0.01</text><text transform="translate(211.50,399.70) scale(1.25,1)" font-size="17" text-anchor="middle" >0.001</text><text transform="translate(102.40,399.70) scale(1.25,1)" font-size="17" text-anchor="middle" >0.0001</text>
<text transform="translate(533.80,96.90) scale(1.2,1)" font-size="15" text-anchor="end" >Gerda II</text>
<text transform="translate(533.80,141.10) scale(1.2,1)" font-size="15" text-anchor="end" >Majorana</text>
<text transform="translate(531.00,177.20) scale(1.2,1)" font-size="15" text-anchor="end" >Cuore</text>
</g>
<g font-weight="bold" fill="#fff">
<text transform="translate(230.50,145.40) scale(1.25,1)" font-size="14.5" text-anchor="start" >(Δm<tspan font-size="10" dy="1.8" dx="2.2">23</tspan><tspan dy="-1.8" dx="0.6">)</tspan><tspan font-size="10" dy="-6.3" dx="1">2</tspan><tspan dy="6.3" dx="1">&lt;</tspan><tspan dx="0.5">0</tspan></text>
<text transform="translate(230.50,251.20) scale(1.25,1)" font-size="14.5" text-anchor="start" >(Δm<tspan font-size="10" dy="1.8" dx="2.2">23</tspan><tspan dy="-1.8" dx="0.6">)</tspan><tspan font-size="10" dy="-6.3" dx="1">2</tspan><tspan dy="6.3" dx="1">&gt;</tspan><tspan dx="0.5">0</tspan></text>
</g>
<g font-weight="bold" fill="#000">
<text transform="translate(114.60,43.80) scale(1.2526,1)" font-size="15" text-anchor="start" >0</text>
<path d="M125.2 39.0 L126.9 38.5 L129.9 41.7 L133.2 38.3 L133.9 38.8 L129.6 43.3 Z" fill="#000"/>
<text transform="translate(135.30,43.80) scale(1.2413,1)" font-size="15" text-anchor="start" >2<tspan font-style="italic">β</tspan> disfavoured (Heidelberg−Moscow)</text>
</g>
<g fill="#000">
<text transform="translate(320.50,429.00) scale(1.25,1)" font-size="17" text-anchor="middle" ><tspan font-style="italic">m</tspan><tspan font-style="italic" font-size="12" dy="3">ν</tspan><tspan dy="-3"> (eV)</tspan></text>
<text transform="translate(19,194.5) rotate(-90) scale(1.14,1)" font-size="17" text-anchor="middle">|<tspan font-style="italic">m</tspan><tspan font-size="12" dy="3">ee</tspan><tspan dy="-3">| (eV)</tspan></text>
</g>
</svg>
</body></html>
